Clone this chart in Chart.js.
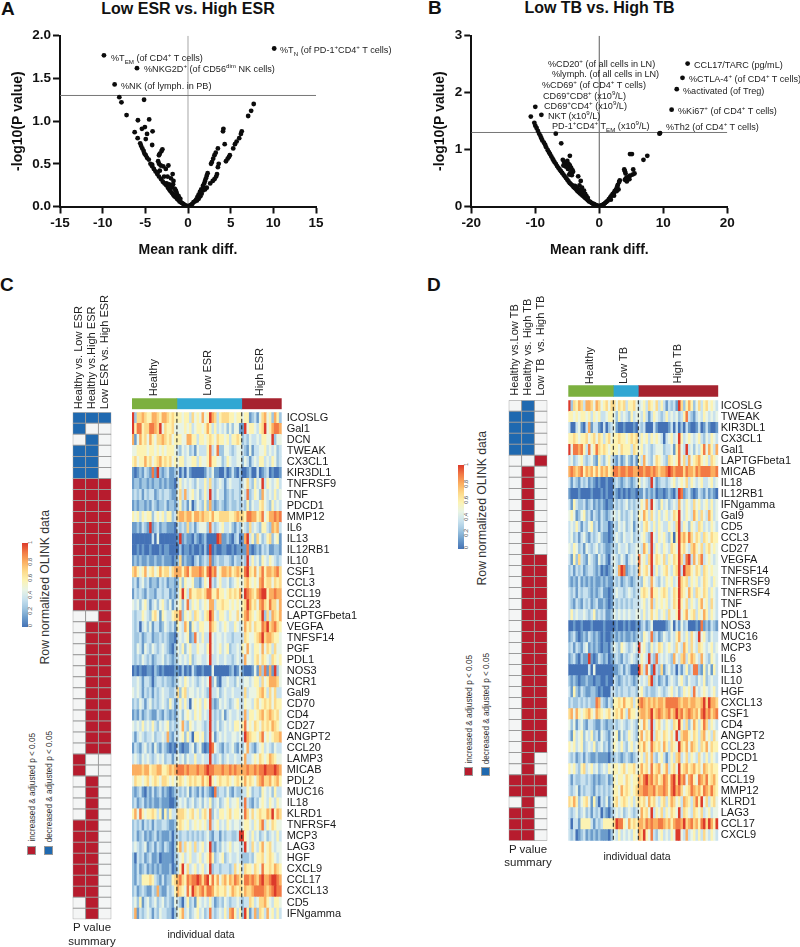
<!DOCTYPE html>
<html lang="en">

<head>
    <meta charset="UTF-8">
    <title>Volcano plots and OLINK heatmaps</title>
    <script src="https://cdn.jsdelivr.net/npm/chart.js"></script>
    <style>
        body {
            margin: 0;
            background: #fff;
            font-family: "Liberation Sans", sans-serif;
            color: #222;
            width: 800px;
            height: 947px;
            overflow: hidden;
            position: relative;
        }

        canvas {
            position: absolute;
        }

        .t {
            position: absolute;
            white-space: nowrap;
        }

        .letter {
            font-weight: bold;
            font-size: 19px;
            color: #111;
            transform: translateY(-50%);
        }

        .title {
            font-weight: bold;
            font-size: 16px;
            color: #111;
            transform: translate(-50%, -50%);
        }

        .ann {
            font-size: 9.1px;
            transform: translateY(-50%);
        }

        sup, sub {
            font-size: 68%;
            line-height: 0;
        }

        .up {
            writing-mode: vertical-rl;
            transform: translateX(-50%) rotate(180deg);
        }

        .center {
            transform: translate(-50%, -50%);
            font-size: 11px;
        }

        .bar {
            position: absolute;
            width: 5.5px;
        }

        .swatch {
            position: absolute;
            width: 9px;
            height: 9px;
            border: 1px solid #999;
            box-sizing: border-box;
        }
    </style>
</head>

<body>

    <div class="t letter" style="left:1px;top:9px">A</div>
    <div class="t letter" style="left:428px;top:8px">B</div>
    <div class="t letter" style="left:0;top:285px">C</div>
    <div class="t letter" style="left:427px;top:285px">D</div>

    <div class="t title" style="left:188px;top:9px">Low ESR vs. High ESR</div>
    <div class="t title" style="left:599.5px;top:8px">Low TB vs. High TB</div>

    <canvas id="volcanoA" width="400" height="242" style="left:0;top:20px"></canvas>
    <canvas id="volcanoB" width="400" height="242" style="left:400px;top:20px"></canvas>

    <div class="t ann" style="left:280px;top:50px">%T<sub>N</sub> (of PD-1<sup>+</sup>CD4<sup>+</sup> T cells)</div>
    <div class="t ann" style="left:111px;top:58px">%T<sub>EM</sub> (of CD4<sup>+</sup> T cells)</div>
    <div class="t ann" style="left:144px;top:69px">%NKG2D<sup>+</sup> (of CD56<sup>dim</sup> NK cells)</div>
    <div class="t ann" style="left:121px;top:86px">%NK (of lymph. in PB)</div>

    <div class="t ann" style="left:548px;top:64px">%CD20<sup>+</sup> (of all cells in LN)</div>
    <div class="t ann" style="left:552px;top:73.5px">%lymph. (of all cells in LN)</div>
    <div class="t ann" style="left:542px;top:84.5px">%CD69<sup>+</sup> (of CD4<sup>+</sup> T cells)</div>
    <div class="t ann" style="left:543px;top:95.5px">CD69<sup>+</sup>CD8<sup>+</sup> (x10<sup>9</sup>/L)</div>
    <div class="t ann" style="left:544px;top:105.5px">CD69<sup>+</sup>CD4<sup>+</sup> (x10<sup>9</sup>/L)</div>
    <div class="t ann" style="left:548px;top:115.5px">NKT (x10<sup>9</sup>/L)</div>
    <div class="t ann" style="left:552px;top:126px">PD-1<sup>+</sup>CD4<sup>+</sup> T<sub>EM</sub> (x10<sup>9</sup>/L)</div>
    <div class="t ann" style="left:694px;top:64.5px">CCL17/TARC (pg/mL)</div>
    <div class="t ann" style="left:689px;top:79px">%CTLA-4<sup>+</sup> (of CD4<sup>+</sup> T cells)</div>
    <div class="t ann" style="left:683px;top:90.5px">%activated (of Treg)</div>
    <div class="t ann" style="left:678px;top:110.5px">%Ki67<sup>+</sup> (of CD4<sup>+</sup> T cells)</div>
    <div class="t ann" style="left:666px;top:126.5px">%Th2 (of CD4<sup>+</sup> T cells)</div>

    <canvas id="matrixC" width="70" height="650" style="left:60px;top:280px"></canvas>
    <canvas id="groupsC" width="170" height="31" style="left:120px;top:389px"></canvas>
    <canvas id="heatC" width="240" height="527" style="left:125px;top:402px"></canvas>

    <canvas id="matrixD" width="70" height="570" style="left:495px;top:280px"></canvas>
    <canvas id="groupsD" width="170" height="31" style="left:558px;top:376px"></canvas>
    <canvas id="heatD" width="240" height="461" style="left:560px;top:390px"></canvas>

    <div class="t up" style="left:153px;bottom:551px;font-size:11px">Healthy</div>
    <div class="t up" style="left:207px;bottom:551px;font-size:11px">Low ESR</div>
    <div class="t up" style="left:259px;bottom:551px;font-size:11px">High ESR</div>
    <div class="t up" style="left:589px;bottom:563px;font-size:11px">Healthy</div>
    <div class="t up" style="left:623px;bottom:563px;font-size:11px">Low TB</div>
    <div class="t up" style="left:677px;bottom:563px;font-size:11px">High TB</div>

    <div class="t up" style="left:45px;top:510px;font-size:12.2px;color:#333">Row normalized OLINK data</div>
    <div class="t up" style="left:482px;top:431px;font-size:12.2px;color:#333">Row normalized OLINK data</div>

    <div class="bar" id="scaleC" style="left:22px;top:543px;height:84px"></div>
    <div class="bar" id="scaleD" style="left:458px;top:465px;height:84px"></div>

    <div class="swatch" style="left:27px;top:846px;background:#b71c2e"></div>
    <div class="swatch" style="left:44px;top:846px;background:#1f69b0"></div>
    <div class="t up" style="left:32px;bottom:105px;font-size:8.2px;color:#333">increased &amp; adjusted p &lt; 0.05</div>
    <div class="t up" style="left:49px;bottom:105px;font-size:8.2px;color:#333">decreased &amp; adjusted p &lt; 0.05</div>

    <div class="swatch" style="left:463.5px;top:767px;background:#b71c2e"></div>
    <div class="swatch" style="left:480.5px;top:767px;background:#1f69b0"></div>
    <div class="t up" style="left:469px;bottom:183px;font-size:8.2px;color:#333">increased &amp; adjusted p &lt; 0.05</div>
    <div class="t up" style="left:486px;bottom:183px;font-size:8.2px;color:#333">decreased &amp; adjusted p &lt; 0.05</div>

    <div class="t center" style="left:92px;top:927px;font-size:11.5px">P value</div>
    <div class="t center" style="left:92px;top:941px;font-size:11.5px">summary</div>
    <div class="t center" style="left:528px;top:849px;font-size:11.5px">P value</div>
    <div class="t center" style="left:528px;top:862px;font-size:11.5px">summary</div>
    <div class="t center" style="left:201px;top:934px;font-size:10.5px">individual data</div>
    <div class="t center" style="left:637px;top:856px;font-size:10.5px">individual data</div>

    <script>
        // panel A, mean rank diff. and -log10(p)
        const diffA = [10.1, -9.85, -5.98, -8.6, -8.05, -7.8, -5.15, -7.2, -5.87, -4.55, -5.4, -5.05, -6.25, -4.15, -4.8, -5.9, -4.95, -5.6, -4.2,
            -5.5, -5.35, -5.2, -5.1, -4.95, -4.8, -4.6, -4.4, -4.2, -4, -3.8, -3.6, -3.4, -3.15, -2.95, -2.75, -2.55, -2.35, -2.2, -2.05, -1.9, -1.75, -1.6, -1.45, -1.3, -1.15, -1, -0.85, -0.7, -0.55, -0.4, -0.25, -0.1, 0,
            -3, -3.1, -3.3, -3.4, -4.2, -3.5, -3.4, -3.2, -2.9, -2.3, -2.6, -3.3, -3.55, -2.8, -2.4, -1.8, -2, -1.7, -2.5, -2.2, -1.9, -1.6, -1.4, -1.3, -1.1, -0.9, -1.75, -1.5,
            7.7, 7.4, 7.05, 4.15, 4.1, 6.3, 6.2, 6, 5.7, 5.5, 5.3, 4.3, 3.5, 3.25, 3.1, 2.95, 2.8, 2.7, 3.6, 3.5, 4.9, 4.8, 4.65, 4.45, 3.4, 3.3, 3.1, 2.9, 2.6, 2.3, 2.2, 2.1, 2, 1.9, 1.75, 2, 2.2, 1.55, 1.8, 1.4, 1.6, 1.25, 1.45, 1.1, 1.25, 0.95, 1.05, 0.8, 0.65, 0.5, 0.35, 0.2, 0.1];
        const logpA = [1.85, 1.77, 1.62, 1.43, 1.28, 1.22, 1.25, 1.07, 1.01, 1.02, 0.91, 0.93, 0.87, 0.88, 0.85, 0.8, 0.79, 0.74, 0.72,
            0.71, 0.68, 0.65, 0.62, 0.6, 0.57, 0.55, 0.5, 0.47, 0.44, 0.41, 0.38, 0.35, 0.32, 0.29, 0.27, 0.25, 0.22, 0.2, 0.18, 0.16, 0.14, 0.12, 0.11, 0.09, 0.08, 0.06, 0.05, 0.04, 0.03, 0.02, 0.01, 0.005, 0,
            0.67, 0.65, 0.62, 0.6, 0.49, 0.53, 0.5, 0.48, 0.47, 0.48, 0.44, 0.42, 0.4, 0.35, 0.35, 0.38, 0.33, 0.3, 0.27, 0.26, 0.23, 0.21, 0.18, 0.15, 0.12, 0.09, 0.26, 0.2,
            1.2, 1.12, 1.06, 0.91, 0.88, 0.88, 0.85, 0.8, 0.76, 0.73, 0.68, 0.73, 0.68, 0.63, 0.6, 0.56, 0.52, 0.5, 0.5, 0.46, 0.6, 0.58, 0.56, 0.53, 0.38, 0.35, 0.32, 0.3, 0.27, 0.39, 0.36, 0.33, 0.3, 0.27, 0.24, 0.2, 0.22, 0.2, 0.19, 0.17, 0.15, 0.14, 0.12, 0.11, 0.09, 0.08, 0.07, 0.06, 0.05, 0.03, 0.02, 0.01, 0.005];

        // panel B
        const diffB = [-10.7, -10, -9.05, -6.8, -5.95, -4.6,
            -10.15, -10, -9.8, -9.6, -9.4, -9.2, -9.05, -8.9, -8.65, -8.45, -8.3, -8.05, -7.85, -7.7, -7.5, -7.3, -7.15, -7, -6.8, -6.6, -6.4, -6.2, -6, -5.8, -5.6, -5.4, -5.2, -5, -4.8, -4.6, -4.4, -4.2, -4, -3.8, -3.6, -3.4, -3.2, -3, -2.8, -2.6, -2.4, -2.2, -2, -1.8, -1.6, -1.4, -1.2, -1, -0.8, -0.6, -0.4, -0.2, 0,
            -5.7, -5.5, -5.3, -5, -4.8, -4.6, -4.4, -4.2, -4.1, -4.5, -4.9, -5.2, -5.6, -3.3, -2.9, -3.1, -2.7, -2.4, -2.6, -2.2, -3.4, -3, -2, -1.8, -4.3, -4.7, -3.8,
            4.8, 5.1, 7.5, 6.9, 9.5, 9.4, 13.8, 13, 12.1, 11.3, 3.9, 4, 4.1, 5.3, 5.5, 5.2, 4.8, 4.5, 4.2, 4, 4.3, 4.7, 3.2, 3.1, 2.9, 2.8, 2.6, 3, 2.7, 2.4, 2.3, 2.1, 1.9, 2.3, 1.7, 1.5, 1.8, 1.3, 1.1, 0.9, 0.7, 0.5, 0.3, 0.15];
        const logpB = [1.58, 1.75, 1.61, 1.28, 1.11, 0.89,
            1.47, 1.42, 1.38, 1.33, 1.28, 1.24, 1.2, 1.16, 1.12, 1.08, 1.04, 0.99, 0.95, 0.92, 0.88, 0.84, 0.81, 0.78, 0.75, 0.71, 0.68, 0.65, 0.62, 0.59, 0.56, 0.53, 0.5, 0.47, 0.44, 0.41, 0.39, 0.37, 0.34, 0.32, 0.3, 0.27, 0.25, 0.23, 0.21, 0.19, 0.17, 0.15, 0.13, 0.11, 0.09, 0.08, 0.06, 0.05, 0.04, 0.03, 0.02, 0.01, 0,
            0.82, 0.78, 0.76, 0.8, 0.75, 0.72, 0.68, 0.64, 0.61, 0.6, 0.66, 0.7, 0.72, 0.53, 0.45, 0.37, 0.33, 0.28, 0.26, 0.22, 0.32, 0.28, 0.18, 0.15, 0.55, 0.56, 0.36,
            0.92, 0.92, 0.89, 0.82, 1.29, 1.28, 2.51, 2.26, 2.06, 1.7, 0.65, 0.62, 0.58, 0.65, 0.58, 0.56, 0.54, 0.52, 0.5, 0.47, 0.44, 0.48, 0.46, 0.43, 0.38, 0.35, 0.3, 0.3, 0.27, 0.27, 0.24, 0.22, 0.19, 0.19, 0.16, 0.13, 0.12, 0.1, 0.08, 0.06, 0.04, 0.03, 0.02, 0.01];

        const cutoff = 1.3;

        // heatmap cells are one digit each, 0 = lowest ... 9 = highest
        const palette = ['#4472b6', '#6c9ccb', '#a0c6e1', '#c9e2ee', '#e9f4e4', '#fcf3b3', '#fdd98a', '#fbae60', '#f27a45', '#dc3a2b'];
        const scaleTicks = ['0', '0.2', '0.4', '0.6', '0.8', '1'];

        const genesC = ['ICOSLG', 'Gal1', 'DCN', 'TWEAK', 'CX3CL1', 'KIR3DL1', 'TNFRSF9', 'TNF', 'PDCD1', 'MMP12', 'IL6', 'IL13', 'IL12RB1', 'IL10', 'CSF1', 'CCL3', 'CCL19', 'CCL23', 'LAPTGFbeta1', 'VEGFA', 'TNFSF14', 'PGF', 'PDL1', 'NOS3', 'NCR1', 'Gal9', 'CD70', 'CD4', 'CD27', 'ANGPT2', 'CCL20', 'LAMP3', 'MICAB', 'PDL2', 'MUC16', 'IL18', 'KLRD1', 'TNFRSF4', 'MCP3', 'LAG3', 'HGF', 'CXCL9', 'CCL17', 'CXCL13', 'CD5', 'IFNgamma'];
        const groupNamesC = ['Healthy', 'Low ESR', 'High ESR'];
        const groupSizesC = [18, 26, 16];
        const contrastsC = ['Healthy vs. Low ESR', 'Healthy vs.High ESR', 'Low ESR vs. High ESR'];
        const heatRowsC = [
            '926676557765776565 55455364547459763566655455 4551231467452752',
            '958856688769465564 44454534554575353434242441 1945543569457887',
            '714756475466765645 55447755355456546554535565 2324334355449244',
            '445555455454545554 32434231433358348224432344 3214133445343423',
            '564557564567565645 45534455354458554423543344 2431343553435423',
            '101213218192123112 30203100000132411002013102 0012003012301001',
            '122122121221212110 35343432433536323431343332 3463253493543453',
            '232313233123233211 46373453423539324331232332 4382354274343534',
            '121221213212231221 35231402432527212321232232 3252433564325343',
            '545354552454535523 67767757767665755666655676 6588775684577878',
            '112132191231221110 32326231344428323453342132 4326343255327673',
            '000000003040000000 19121102101200009811210230 1793526423562451',
            '001010010001011000 02011010010209010011001011 1181012132311221',
            '121211211211211101 26121102312328123223321322 3293534254354323',
            '675457456457566467 77578577787589784577675676 5896574685776786',
            '231342312213231221 25254452213549324533423454 4675454785664656',
            '132321322133233121 35953755665688557554565657 4987657899577877',
            '434245313424532413 45248354534547735565545454 5697564786586647',
            '323354325641543356 68254536543569743554354464 5786545692637657',
            '323034241331243231 54375154355448654345433543 4756465587967865',
            '322312331223232110 34345128435339434434332333 3654456796776554',
            '324314324323432102 43524533544359434534523343 5474355474653644',
            '323243231233423212 34343523443349334334332343 3744356465436545',
            '010100110210100001 10201031001000400000012013 1000141728171924',
            '334313320233232212 34354343234349241033433243 3443455364577764',
            '434313231323433223 62563443434329334234334333 3634445675364633',
            '232431342323432531 35353045453549212434323453 3544356456564655',
            '121312321132132121 34245435453439323241343343 3735545675676564',
            '434353435324345232 34732543443239324234343554 5845465465657654',
            '313432334233437213 34525305545239413434334434 3976554684545667',
            '132134231421321010 31011341341019843213234213 2473213453432433',
            '343243432343423313 43424335334339323423433433 4733454654576544',
            '777767756677556767 88878777877898877787787877 7787787889888987',
            '465545645654665454 56545656557569545655654565 5756546786675675',
            '212310213123121012 32324132131321082332421322 3354233254342533',
            '231231212112111001 34342342342435234234534453 3832132454354354',
            '574854556535152533 66654564535648243554564554 4864645655769576',
            '232313231322332112 56545345454538345343543443 4554354683546544',
            '231231212312111202 32332323232342133132332239 9543534234234353',
            '343234123132132102 57364536345349213243453443 3943643574564344',
            '203231231120111102 34534533453458523452343343 2223245564565434',
            '213123121212111201 35946345345349233233323645 3655465485565765',
            '213255565321312256 78658788986895857467576876 5887876897789987',
            '231232113272113235 76548597678688756556457656 5766788887678988',
            '342513423423423214 32035231543435312324323343 2336534667543554',
            '371323431324332202 45734234534238323435378535 2951372653745353'
        ];

        const genesD = ['ICOSLG', 'TWEAK', 'KIR3DL1', 'CX3CL1', 'Gal1', 'LAPTGFbeta1', 'MICAB', 'IL18', 'IL12RB1', 'IFNgamma', 'Gal9', 'CD5', 'CCL3', 'CD27', 'VEGFA', 'TNFSF14', 'TNFRSF9', 'TNFRSF4', 'TNF', 'PDL1', 'NOS3', 'MUC16', 'MCP3', 'IL6', 'IL13', 'IL10', 'HGF', 'CXCL13', 'CSF1', 'CD4', 'ANGPT2', 'CCL23', 'PDCD1', 'PDL2', 'CCL19', 'MMP12', 'KLRD1', 'LAG3', 'CCL17', 'CXCL9'];
        const groupNamesD = ['Healthy', 'Low TB', 'High TB'];
        const groupSizesD = [18, 10, 32];
        const contrastsD = ['Healthy vs.Low TB', 'Healthy vs. High TB', 'Low TB  vs. High TB'];
        const heatRowsD = [
            '926576377647645646 6465635564 34536546353132319625752463564543',
            '554545545354533455 4253432534 43531354323534342358321343543434',
            '300341037133103023 4100100010 32300031000013030203100130131001',
            '556545564564653564 5565545656 35453545430345349534543453243543',
            '948878538458656545 5546555365 45343234442334158439342435847537',
            '342345323421532453 2131242131 53743246543265458463745675453654',
            '787678576757576756 8878878877 88788787677898788868776878888778',
            '313213231210100100 2321232123 53432931233234534546354345334534',
            '100010000100010100 2101010110 11312120110121029812310132131210',
            '315322312312121011 3232342323 35473943253423437435436453453534',
            '454124523132132123 4342323423 54753643534534659435437536437534',
            '343531324523132201 3243423413 43564353543354369354254365343543',
            '342313421323421101 3432433423 34532943545325059675864653654655',
            '435423143234232112 3243342334 43753935435436549564367546356454',
            '315263214321423103 4324313434 84536946546354659638937468345434',
            '231323123321201012 4379812323 74564935345643569397754653654544',
            '212131212121121211 3231232123 32543743243545349656354534654354',
            '323132332121231101 3433234323 35654855456534659654753654653543',
            '321321323123112101 3232323233 34534735454534659546354357453643',
            '353433432352323112 4343434334 43534645345364459457456354753543',
            '001001000100001000 0100101001 02312400000124031423000108121321',
            '123101213212101001 2121211212 32543823124324357435364394532433',
            '231321341212101102 4325432343 94532534653454364375364365434534',
            '123102119101321201 2321323432 35439328343432743673576437432543',
            '000000003040000000 1123132000 96384193261342303135238821524153',
            '212101121101100100 3212323212 43436923123134324532433243523433',
            '315213211221010003 3232332332 45323223432345342354538434543453',
            '232232323228732132 5565755635 78767676776888887677677667969776',
            '674754567547654564 5657537554 67767967876786797867876758978678',
            '424134213321132122 3234323432 54753935643543659536247535863543',
            '315345243523143213 4514235432 57465936546546493677546536745364',
            '545345234352342313 5435324534 65754865647536549657476536574655',
            '323123132112111102 2321232123 45364732453135367346354364353543',
            '545325634534234354 5545645564 57564856745735649567567564765655',
            '313223323212122312 5455465455 76897867568758969784785487685675',
            '323413233213232323 5547565456 77887786778758978645687675876865',
            '657524564152032413 5645654535 65647564356357645376536859463564',
            '323423423132302102 3434234323 47564935463546549365436546345344',
            '303315555313235555 6988547565 77687877887675788796786758969759',
            '323012312121211102 4353434354 76954832453435499437345353643543'
        ];

        // P value summary, one letter per contrast: r increased, b decreased, n not significant
        const summaryC = ['bbb', 'bnn', 'nbn', 'bbn', 'bbn', 'bbn',
            'rrr', 'rrr', 'rrr', 'rrr', 'rrr', 'rrr', 'rrr', 'rrr', 'rrr', 'rrr', 'rrr', 'rrr',
            'nnr', 'nrr', 'nrr', 'nrr', 'nrr', 'nrr', 'nrr', 'nrr', 'nrr', 'nrr', 'nrr', 'nrr', 'nrr',
            'rnn', 'rnn', 'nrn', 'nrn', 'nrn', 'nrn',
            'rrn', 'rrn', 'rrn', 'rrn', 'rrn', 'rrn', 'rrn', 'nrn', 'nrn'];
        const summaryD = ['nbn', 'bbn', 'bbn', 'bbn', 'bbn', 'nnr',
            'nrn', 'nrn', 'nrn', 'nrn', 'nrn', 'nrn', 'nrn', 'nrn',
            'nrr', 'nrr', 'nrr', 'nrr', 'nrr', 'nrr', 'nrr', 'nrr', 'nrr', 'nrr', 'nrr', 'nrr', 'nrr', 'nrr', 'nrr', 'nrr', 'nrr', 'nrr',
            'nrn', 'nrn', 'rrr', 'rrr', 'nrn', 'rrn', 'rrn', 'rrn'];

        const summaryColors = { r: '#b71c2e', b: '#1f69b0', n: '#f4f5f5' };
        const groupColors = ['#7cb03f', '#31a7d3', '#a6232f'];

        Chart.defaults.font.family = '"Liberation Sans", sans-serif';
        Chart.defaults.animation = false;
        Chart.defaults.responsive = false;
        Chart.defaults.plugins.legend.display = false;
        Chart.defaults.plugins.tooltip.enabled = false;

        function volcano(id, xs, ys, xRange, xStep, yMax, yStep, yDigits, zeroColor, pad, titleGap) {
            const axis = {
                type: 'linear',
                grid: { drawOnChartArea: false, tickLength: 7, tickWidth: 2, tickColor: '#111' },
                border: { color: '#111', width: 2 }
            };
            const bold = { weight: 'bold', size: 13.5 };
            new Chart(document.getElementById(id), {
                type: 'scatter',
                data: {
                    datasets: [
                        { data: xs.map((x, i) => ({ x: x, y: ys[i] })), backgroundColor: '#0c0c0c', borderWidth: 0, pointRadius: 2.4 },
                        { data: [{ x: -xRange, y: cutoff }, { x: xRange, y: cutoff }], showLine: true, borderColor: '#777', borderWidth: 1, pointRadius: 0 },
                        { data: [{ x: 0, y: 0 }, { x: 0, y: yMax }], showLine: true, borderColor: zeroColor, borderWidth: 1.2, pointRadius: 0 }
                    ]
                },
                options: {
                    layout: { padding: { top: 15.7, right: pad, left: 0, bottom: 0 } },
                    scales: {
                        x: {
                            ...axis, min: -xRange, max: xRange,
                            ticks: { stepSize: xStep, color: '#111', font: bold, padding: 2, maxRotation: 0 },
                            title: { display: true, text: 'Mean rank diff.', color: '#111', font: { weight: 'bold', size: 14 }, padding: { bottom: 3 } },
                            afterFit: s => { s.height = 55.5; }
                        },
                        y: {
                            ...axis, min: 0, max: yMax,
                            ticks: { stepSize: yStep, color: '#111', font: bold, padding: 2, callback: v => v.toFixed(yDigits) },
                            title: { display: true, text: '-log10(P value)', color: '#111', font: { weight: 'bold', size: 14 }, padding: { top: titleGap } },
                            afterFit: s => { s.width = 400 - pad - 256; }
                        }
                    }
                }
            });
        }

        volcano('volcanoA', diffA, logpA, 15, 5, 2, 0.5, 1, '#b5b5b5', 84, 10);
        volcano('volcanoB', diffB, logpB, 20, 10, 3, 1, 0, '#777', 72.7, 32);

        // stacked columns, one dataset per row, so the scales place every cell
        function cellRows(labels, colorRows) {
            return labels.map((name, r) => ({
                label: name,
                data: colorRows[r].map(() => 1),
                backgroundColor: colorRows[r],
                categoryPercentage: 1,
                barPercentage: 1
            })).reverse();
        }

        function heatmap(id, genes, rows, sizes, area) {
            const colorRows = rows.map(r => r.replace(/ /g, '').split('').map(d => palette[+d]));
            const columns = colorRows[0].map((c, i) => i);
            const dashes = {
                id: 'dashes',
                afterDatasetsDraw(chart) {
                    const { ctx, chartArea, scales } = chart;
                    ctx.save();
                    ctx.strokeStyle = '#1a1a1a';
                    ctx.lineWidth = 1;
                    ctx.setLineDash([4, 2.5]);
                    [sizes[0], sizes[0] + sizes[1]].forEach(b => {
                        const x = (scales.x.getPixelForValue(b - 1) + scales.x.getPixelForValue(b)) / 2;
                        ctx.beginPath();
                        ctx.moveTo(x, chartArea.top);
                        ctx.lineTo(x, chartArea.bottom);
                        ctx.stroke();
                    });
                    ctx.restore();
                }
            };
            new Chart(document.getElementById(id), {
                type: 'bar',
                data: { labels: columns, datasets: cellRows(genes, colorRows) },
                options: {
                    layout: { padding: area.padding },
                    scales: {
                        x: { stacked: true, display: false },
                        y: { stacked: true, display: false, min: 0, max: genes.length },
                        genes: {
                            type: 'category', axis: 'y', labels: genes, position: 'right', offset: true,
                            grid: { display: false }, border: { display: false },
                            ticks: { autoSkip: false, color: '#1a1a1a', font: { size: 11 }, padding: area.labelPad },
                            afterFit: s => { s.width = area.labelWidth; }
                        }
                    }
                },
                plugins: [dashes]
            });
        }

        function groupBar(id, names, sizes, padding) {
            new Chart(document.getElementById(id), {
                type: 'bar',
                data: {
                    labels: ['group'],
                    datasets: names.map((n, i) => ({ label: n, data: [sizes[i]], backgroundColor: groupColors[i], barPercentage: 1, categoryPercentage: 1 }))
                },
                options: {
                    indexAxis: 'y',
                    layout: { padding: padding },
                    scales: {
                        x: { stacked: true, display: false, min: 0, max: 60 },
                        y: { stacked: true, display: false }
                    }
                }
            });
        }

        function summaryMatrix(id, genes, contrasts, summary, area) {
            const colorRows = summary.map(s => s.split('').map(k => summaryColors[k]));
            const datasets = cellRows(genes, colorRows);
            datasets.forEach(d => { d.borderColor = '#9b9b9b'; d.borderWidth = 1; d.borderSkipped = false; d.inflateAmount = 0.5; });
            new Chart(document.getElementById(id), {
                type: 'bar',
                data: { labels: contrasts, datasets: datasets },
                options: {
                    layout: { padding: area.padding },
                    scales: {
                        x: {
                            stacked: true, position: 'top',
                            grid: { display: false }, border: { display: false },
                            ticks: { autoSkip: false, color: '#222', font: { size: 11 }, minRotation: 90, maxRotation: 90, padding: area.tickPad, labelOffset: 13.2 },
                            afterFit: s => { s.height = area.axisHeight; }
                        },
                        y: { stacked: true, display: false, min: 0, max: genes.length }
                    }
                }
            });
        }

        summaryMatrix('matrixC', genesC, contrastsC, summaryC, { padding: { left: 12.7, right: 18.7, top: 0, bottom: 10.7 }, axisHeight: 132.3, tickPad: -5 });
        groupBar('groupsC', groupNamesC, groupSizesC, { left: 12, right: 8.3, top: 9.3, bottom: 10.7 });
        heatmap('heatC', genesC, heatRowsC, groupSizesC, { padding: { left: 7, right: 0, top: 10.3, bottom: 10 }, labelWidth: 83.3, labelPad: -3 });

        summaryMatrix('matrixD', genesD, contrastsD, summaryD, { padding: { left: 13.7, right: 17.7, top: 0, bottom: 9.3 }, axisHeight: 120.3, tickPad: -3.5 });
        groupBar('groupsD', groupNamesD, groupSizesD, { left: 10.3, right: 9.7, top: 9.3, bottom: 10.3 });
        heatmap('heatD', genesD, heatRowsD, groupSizesD, { padding: { left: 8.3, right: 0, top: 10.3, bottom: 10.3 }, labelWidth: 81.7, labelPad: -5.6 });

        // colour scale legends
        [['scaleC', 30, 628], ['scaleD', 466, 550]].forEach(([id, x, bottom]) => {
            document.getElementById(id).style.background = 'linear-gradient(to top, ' + palette.join(', ') + ')';
            scaleTicks.forEach((t, i) => {
                const el = document.createElement('div');
                el.className = 't up';
                el.textContent = t;
                el.style.cssText = 'left:' + x + 'px;font-size:5.5px;color:#444;top:' + (bottom - i * 16.6) + 'px;margin-top:-4px';
                document.body.appendChild(el);
            });
        });
    </script>

</body>

</html>
